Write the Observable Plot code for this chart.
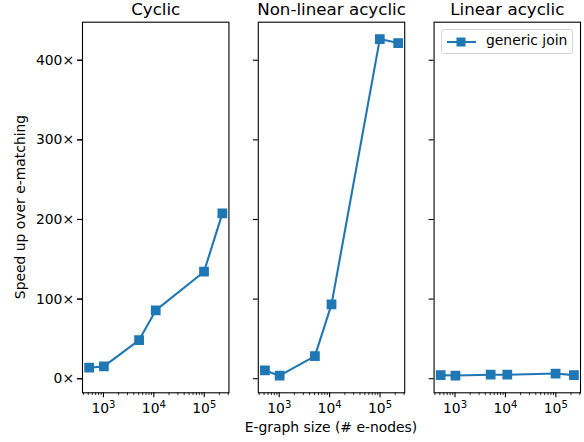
<!DOCTYPE html>
<html>
<head>
<meta charset="utf-8">
<script src="https://cdn.jsdelivr.net/npm/d3@7"></script>
<script src="https://cdn.jsdelivr.net/npm/@observablehq/plot@0.6"></script>
<style>
  html, body { margin: 0; padding: 0; background: white; }
  #wrap { position: relative; width: 584px; height: 442px; font-family: "DejaVu Sans", sans-serif; color: black; }
  #chart svg { display: block; }
  .ylab { position: absolute; left: 21px; top: 206.5px; transform: translate(-50%, -50%) rotate(-90deg); font-size: 13.9px; white-space: nowrap; line-height: 1; }
  .xlab { position: absolute; left: 331px; top: 428px; transform: translate(-50%, -50%); font-size: 13.9px; white-space: nowrap; line-height: 1; }
  .legend { position: absolute; left: 441px; top: 28.5px; width: 132px; height: 25px; box-sizing: border-box; border: 1px solid #d4d4d4; border-radius: 3px; background: rgba(255,255,255,0.8); font-size: 13.9px; }
  .legend svg { position: absolute; left: 0px; top: 0px; }
  .legend span { position: absolute; left: 44px; top: 3.5px; white-space: nowrap; line-height: 1.1; }
</style>
</head>
<body>
<div id="wrap">
  <div id="chart"></div>
  <div class="ylab">Speed up over e-matching</div>
  <div class="xlab">E-graph size (# e-nodes)</div>
  <div class="legend" id="legend"></div>
</div>
<script>
const categories = ["Cyclic", "Non-linear acyclic", "Linear acyclic"];
const sizes = [520, 1020, 5100, 10900, 99000, 229000];
const cyclic = [13.8, 15.5, 48.5, 85.8, 134.4, 207.7];
const nonLinearAcyclic = [10.4, 3.8, 28.4, 93.3, 426.6, 421.6];
const linearAcyclic = [4.5, 4, 5, 5, 6.5, 4.5];
const seriesName = "generic join";
const yTicks = [0, 100, 200, 300, 400];
const xMajorTicks = [1e3, 1e4, 1e5];
const xMinorTicks = [400, 500, 600, 700, 800, 900,
  2000, 3000, 4000, 5000, 6000, 7000, 8000, 9000,
  20000, 30000, 40000, 50000, 60000, 70000, 80000, 90000,
  200000, 300000];

const color = "#1f77b4";
const seriesByCategory = [cyclic, nonLinearAcyclic, linearAcyclic];
const data = categories.flatMap((c, i) =>
  sizes.map((s, j) => ({category: c, size: s, speedup: seriesByCategory[i][j]})));

const fmtPow = d => "10^" + Math.round(Math.log10(d));

const chart = Plot.plot({
  width: 584,
  height: 442,
  marginLeft: 82,
  marginRight: 4,
  marginTop: 21.7,
  marginBottom: 49.7,
  style: {fontFamily: "DejaVu Sans, sans-serif", fontSize: "13.9px", background: "white", color: "black", overflow: "visible"},
  fx: {domain: categories, paddingInner: 0.167, paddingOuter: 0, round: false, label: null},
  x: {type: "log", domain: [384, 309000]},
  y: {domain: [-17.7, 447.8]},
  marks: [
    Plot.axisFx({anchor: "top", tickSize: 0, tickPadding: 7, fontSize: 16.7, label: null}),
    Plot.axisX({ticks: xMinorTicks, tickFormat: () => "", tickSize: 2.8, strokeWidth: 0.8, label: null}),
    Plot.axisX({ticks: xMajorTicks, tickFormat: fmtPow, tickSize: 4.9, tickPadding: 5, fontSize: 13.9, strokeWidth: 1.1, label: null}),
    Plot.axisY({ticks: yTicks, tickFormat: () => "", tickSize: 4.9, strokeWidth: 1.1, facetAnchor: null, label: null}),
    Plot.axisY({ticks: yTicks, tickFormat: d => d + "×", tickSize: 4.9, tickPadding: 3.5, fontSize: 13.9, strokeWidth: 1.1, label: null}),
    Plot.frame({stroke: "black", strokeWidth: 1.1}),
    Plot.line(data, {x: "size", y: "speedup", fx: "category", stroke: color, strokeWidth: 2.1}),
    Plot.dot(data, {x: "size", y: "speedup", fx: "category", symbol: "square", fill: color, stroke: color, strokeWidth: 1.4, r: 4.7})
  ]
});

// render "10^k" tick labels with a real superscript
chart.querySelectorAll("text").forEach(t => {
  const m = /^10\^(-?\d+)$/.exec(t.textContent.trim());
  if (m) {
    const ns = "http://www.w3.org/2000/svg";
    t.textContent = "10";
    const s = document.createElementNS(ns, "tspan");
    s.setAttribute("dy", "-0.42em");
    s.setAttribute("font-size", "0.72em");
    s.textContent = m[1];
    t.appendChild(s);
  }
});
document.getElementById("chart").appendChild(chart);

// legend
const lg = document.getElementById("legend");
lg.innerHTML = `<svg width="44" height="24"><line x1="5" y1="12" x2="34" y2="12" stroke="${color}" stroke-width="2.1"/><rect x="14.5" y="7.5" width="9" height="9" fill="${color}"/></svg><span>${seriesName}</span>`;
</script>
</body>
</html>
